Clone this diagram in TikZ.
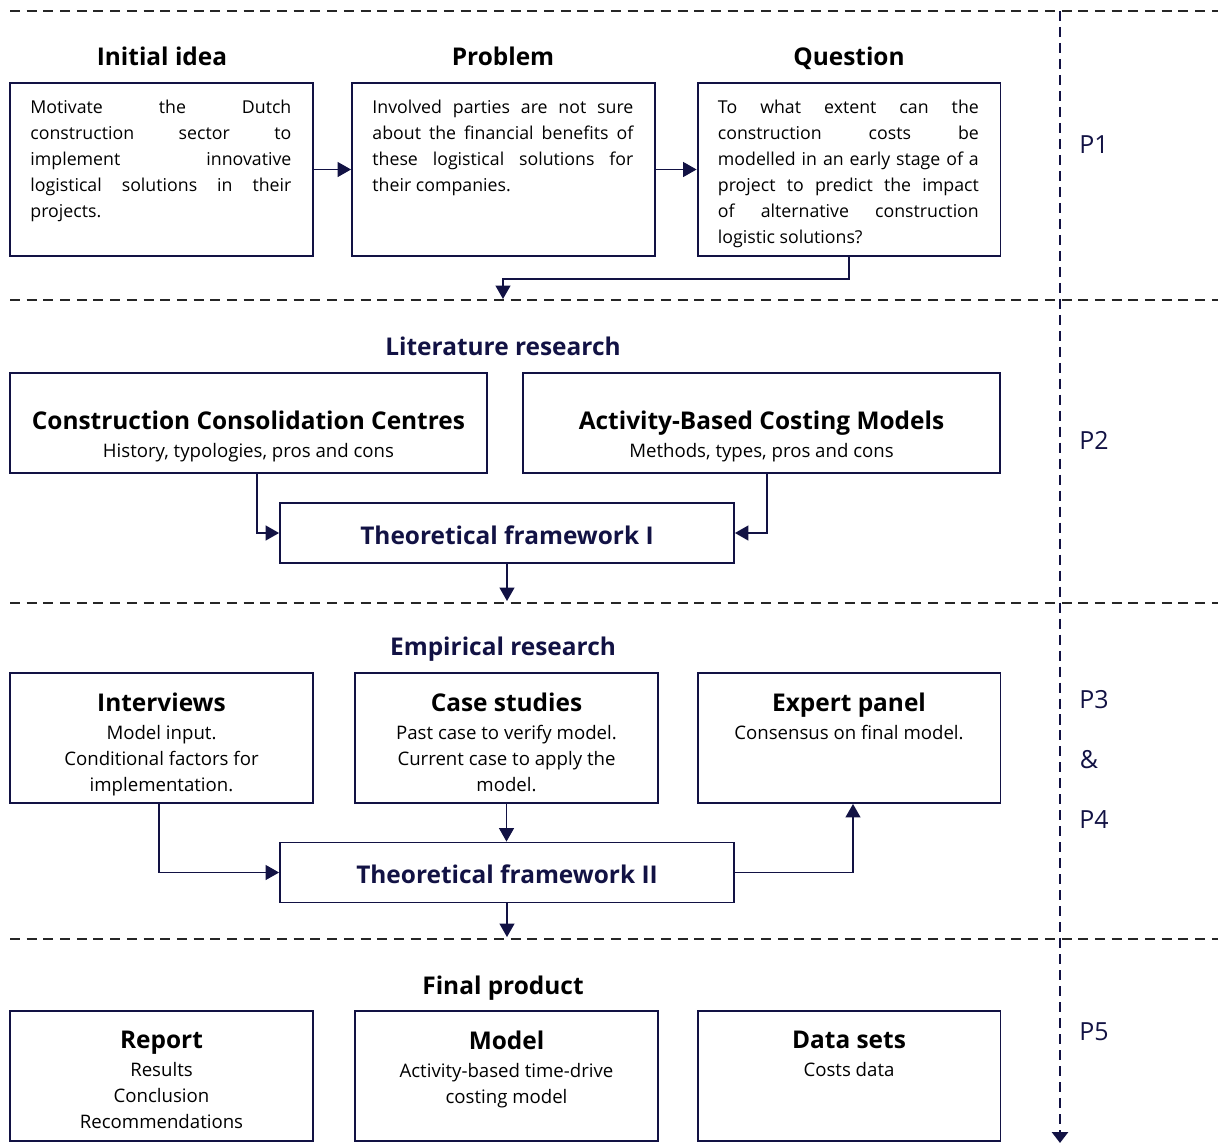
\documentclass[tikz,border=0pt]{standalone}
\usepackage{fontspec}
\setmainfont{Open Sans}
\usetikzlibrary{arrows.meta,positioning}
\definecolor{navy}{RGB}{18,18,68}

\newcommand{\bodysize}{\fontsize{10.6pt}{14.8pt}\selectfont}
\newcommand{\justsize}{\fontsize{10.1pt}{14.8pt}\selectfont}
\newcommand{\headsize}{\fontsize{13.9pt}{17pt}\selectfont\bfseries}

\begin{document}
\begin{tikzpicture}[x=0.02cm, y=-0.02cm,
    font=\bodysize,
    box/.style={draw=navy, line width=1.1pt, inner sep=0pt},
    bigbox/.style={box, minimum width=6.06cm, minimum height=3.46cm},
    widebox/.style={box, minimum width=9.54cm, minimum height=2cm},
    smallbox/.style={box, minimum width=6.06cm, minimum height=2.6cm},
    framebox/.style={box, minimum width=9.08cm, minimum height=1.2cm, font=\headsize, text=navy,
      text height=0.45cm, text depth=0pt},
    head/.style={font=\headsize, inner sep=0pt, anchor=base},
    justtext/.style={text width=5.22cm, align=justify, inner sep=0pt, font=\justsize},
    centertext/.style={align=center, inner sep=0pt},
    phase/.style={font=\fontsize{14.2pt}{17pt}\selectfont, text=navy},
    conn/.style={draw=navy, line width=0.8pt, -{Triangle[length=0.27cm, width=0.3cm]}},
    phaseline/.style={black!85, line width=1.1pt, dash pattern=on 5.7pt off 3.8pt},
    timeline/.style={navy, line width=1.6pt, dash pattern=on 5.7pt off 3.4pt, -{Triangle[length=0.22cm, width=0.32cm]}}
  ]
  \useasboundingbox (0,0) rectangle (1218,1144);

  % phases
  \foreach \y in {11,300,603,939}
    \draw[phaseline] (10,\y) -- (1218,\y);
  \coordinate (time-top) at (1060,11);
  \coordinate (time-end) at (1060,1143);
  \draw[timeline] (time-top) -- (time-end);
  \node[phase] (p1) at (1094,145) {P1};
  \node[phase] (p2) at (1094,440) {P2};
  \node[phase] (p3) at (1094,700) {P3};
  \node[phase] (amp) at (1089,760) {\&};
  \node[phase] (p4) at (1094,820) {P4};
  \node[phase] (p5) at (1094,1032) {P5};

  % P1: idea, problem, question
  \node[head] (idea-head) at (162,65) {Initial idea};
  \node[head] (problem-head) at (503,65) {Problem};
  \node[head] (question-head) at (849,65) {Question};
  \node[bigbox] (idea) at (161.5,169.5) {};
  \node[bigbox] (problem) at (503.5,169.5) {};
  \node[bigbox] (question) at (849,169.5) {};
  \node[justtext, below right=0.36cm and 0.42cm of idea.north west] (idea-text)
    {Motivate the Dutch\linebreak construction sector to\linebreak implement innovative\linebreak logistical solutions in their\linebreak projects.};
  \node[justtext, below right=0.36cm and 0.42cm of problem.north west] (problem-text)
    {Involved parties are not sure\linebreak about the financial benefits of\linebreak these logistical solutions for\linebreak their companies.};
  \node[justtext, below right=0.36cm and 0.42cm of question.north west] (question-text)
    {To what extent can the\linebreak construction costs be\linebreak modelled in an early stage of a\linebreak project to predict the impact\linebreak of alternative construction\linebreak logistic solutions?};
  \draw[conn] (idea) -- (problem);
  \draw[conn] (problem) -- (question);
  \coordinate (p1-out) at (503,299);
  \draw[conn] (question.south) -- ++(0,22) -| (p1-out);

  % P2: literature
  \node[head, text=navy] (lit-head) at (503,355) {Literature research};
  \node[widebox] (ccc) at (248.5,423) {};
  \node[widebox] (abc) at (761.5,423) {};
  \node[centertext, below=0.78cm of ccc.north] (ccc-text)
    {{\headsize Construction Consolidation Centres}\\[1pt]History, typologies, pros and cons};
  \node[centertext, below=0.78cm of abc.north] (abc-text)
    {{\headsize Activity-Based Costing Models}\\[1pt]Methods, types, pros and cons};
  \node[framebox] (tf1) at (507,533) {Theoretical framework I};
  \draw[conn] ([xshift=0.17cm]ccc.south) |- (tf1.west);
  \draw[conn] ([xshift=0.11cm]abc.south) |- (tf1.east);
  \coordinate (p2-out) at (507,601);
  \draw[conn] (tf1) -- (p2-out);

  % P3 & P4: empirical
  \node[head, text=navy] (emp-head) at (503,655) {Empirical research};
  \node[smallbox] (intv) at (161.5,738) {};
  \node[smallbox] (cases) at (506.5,738) {};
  \node[smallbox] (expert) at (849,738) {};
  \node[centertext, below=0.42cm of intv.north] (intv-text)
    {{\headsize Interviews}\\[1.1pt]Model input.\\Conditional factors for\\implementation.};
  \node[centertext, below=0.42cm of cases.north] (cases-text)
    {{\headsize Case studies}\\[1.1pt]Past case to verify model.\\Current case to apply the\\model.};
  \node[centertext, below=0.42cm of expert.north] (expert-text)
    {{\headsize Expert panel}\\[1.1pt]Consensus on final model.};
  \node[framebox] (tf2) at (507,872.5) {Theoretical framework II};
  \draw[conn] ([xshift=-0.05cm]intv.south) |- (tf2.west);
  \draw[conn] (cases.south) -- (cases.south |- tf2.north);
  \draw[conn] (tf2.east) -| ([xshift=0.08cm]expert.south);
  \coordinate (p3-out) at (507,937);
  \draw[conn] (tf2) -- (p3-out);

  % P5: final product
  \node[head] (final-head) at (503,994) {Final product};
  \node[smallbox] (report) at (161.5,1076) {};
  \node[smallbox] (model) at (506.5,1076) {};
  \node[smallbox] (data) at (849,1076) {};
  \node[centertext, below=0.42cm of report.north] (report-text)
    {{\headsize Report}\\[1.1pt]Results\\Conclusion\\Recommendations};
  \node[centertext, below=0.42cm of model.north] (model-text)
    {{\headsize Model}\\[1.1pt]Activity-based time-drive\\costing model};
  \node[centertext, below=0.42cm of data.north] (data-text)
    {{\headsize Data sets}\\[1.1pt]Costs data};
\end{tikzpicture}
\end{document}
